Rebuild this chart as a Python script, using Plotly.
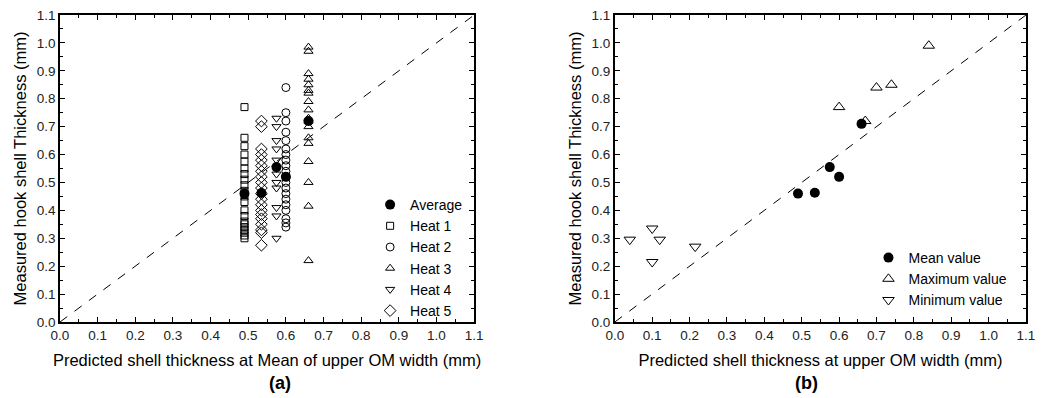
import plotly.graph_objects as go

# ---- Panel (a) data ----
avg_x = [0.49, 0.535, 0.575, 0.60, 0.66]
avg_y = [0.46, 0.462, 0.555, 0.52, 0.72]

heat1_x = 0.49
heat1_y = [0.77, 0.66, 0.63, 0.60, 0.575, 0.55, 0.53, 0.51, 0.49, 0.47, 0.45, 0.43,
           0.40, 0.38, 0.36, 0.35, 0.34, 0.33, 0.32, 0.31, 0.30]
heat2_x = 0.60
heat2_y = [0.84, 0.75, 0.72, 0.68, 0.65, 0.62, 0.60, 0.58, 0.56, 0.54, 0.52, 0.50,
           0.48, 0.46, 0.44, 0.42, 0.40, 0.37, 0.355, 0.34]
heat3_x = 0.66
heat3_y = [0.985, 0.97, 0.89, 0.87, 0.85, 0.83, 0.82, 0.79, 0.76, 0.73, 0.72, 0.70,
           0.66, 0.64, 0.575, 0.50, 0.415, 0.22]
heat4_x = 0.575
heat4_y = [0.73, 0.70, 0.65, 0.62, 0.58, 0.55, 0.53, 0.50, 0.48, 0.41, 0.38, 0.30]
heat5_x = 0.535
heat5_y = [0.72, 0.70, 0.62, 0.60, 0.58, 0.56, 0.54, 0.52, 0.50, 0.48, 0.46, 0.44,
           0.42, 0.40, 0.385, 0.37, 0.35, 0.33, 0.32, 0.275]

# ---- Panel (b) data ----
mean_x = [0.49, 0.535, 0.575, 0.60, 0.66]
mean_y = [0.46, 0.463, 0.555, 0.52, 0.71]
max_x = [0.60, 0.67, 0.70, 0.74, 0.84]
max_y = [0.77, 0.72, 0.84, 0.85, 0.99]
min_x = [0.04, 0.10, 0.10, 0.12, 0.215]
min_y = [0.295, 0.335, 0.215, 0.295, 0.27]

diag = [0.0, 1.1]

FONT = "Liberation Sans, Arial, sans-serif"
BLACK = "#000000"

fig = go.Figure()

def open_marker(symbol, size=8):
    return dict(symbol=symbol, size=size, color=BLACK, line=dict(width=1, color=BLACK))

# panel (a)
fig.add_trace(go.Scatter(x=diag, y=diag, mode="lines", line=dict(color=BLACK, width=1, dash="dash"),
                         showlegend=False, xaxis="x", yaxis="y"))
fig.add_trace(go.Scatter(x=avg_x, y=avg_y, mode="markers", name="Average",
                         marker=dict(symbol="circle", size=10, color=BLACK),
                         xaxis="x", yaxis="y", legend="legend"))
for nm, xv, yv, sym, sz in [("Heat 1", heat1_x, heat1_y, "square-open", 7),
                            ("Heat 2", heat2_x, heat2_y, "circle-open", 8),
                            ("Heat 3", heat3_x, heat3_y, "triangle-up-open", 8),
                            ("Heat 4", heat4_x, heat4_y, "triangle-down-open", 8),
                            ("Heat 5", heat5_x, heat5_y, "diamond-open", 9)]:
    fig.add_trace(go.Scatter(x=[xv] * len(yv), y=yv, mode="markers", name=nm,
                             marker=open_marker(sym, sz), xaxis="x", yaxis="y", legend="legend"))

# panel (b)
fig.add_trace(go.Scatter(x=diag, y=diag, mode="lines", line=dict(color=BLACK, width=1, dash="dash"),
                         showlegend=False, xaxis="x2", yaxis="y2"))
fig.add_trace(go.Scatter(x=mean_x, y=mean_y, mode="markers", name="Mean value",
                         marker=dict(symbol="circle", size=10, color=BLACK),
                         xaxis="x2", yaxis="y2", legend="legend2"))
fig.add_trace(go.Scatter(x=max_x, y=max_y, mode="markers", name="Maximum value",
                         marker=open_marker("triangle-up-open", 10), xaxis="x2", yaxis="y2", legend="legend2"))
fig.add_trace(go.Scatter(x=min_x, y=min_y, mode="markers", name="Minimum value",
                         marker=open_marker("triangle-down-open", 10), xaxis="x2", yaxis="y2", legend="legend2"))

W, H = 1042, 398
ML, MR, MT, MB = 60, 7, 15, 76
PW = W - ML - MR
PH = H - MT - MB
d1 = [0, (478 - ML) / PW]
d2 = [(620 - ML) / PW, 1]

tickvals = [i / 10 for i in range(12)]
ticktext = ["%.1f" % v for v in tickvals]

def axis_common(title, domain=None, anchor=None):
    a = dict(range=[0, 1.1], tickvals=tickvals, ticktext=ticktext,
             ticks="inside", ticklen=5, tickwidth=1.2, tickcolor=BLACK,
             showline=True, linecolor=BLACK, linewidth=1.5, mirror="allticks",
             showgrid=False, zeroline=False,
             tickfont=dict(family=FONT, size=13.5, color="#222222"),
             title=dict(text=title, font=dict(family=FONT, size=16.5, color=BLACK)),
             minor=dict(ticks="inside", ticklen=3, tickwidth=1, tickcolor=BLACK,
                        tickvals=[i / 20 for i in range(1, 22, 2)], showgrid=False))
    if domain is not None:
        a["domain"] = domain
    if anchor is not None:
        a["anchor"] = anchor
    return a

xa1 = axis_common("Predicted shell thickness at Mean of upper OM width (mm)", d1, "y")
xa2 = axis_common("Predicted shell thickness at upper OM width (mm)", d2, "y2")
ya1 = axis_common("Measured hook shell Thickness (mm)", None, "x")
ya2 = axis_common("Measured hook shell Thickness (mm)", None, "x2")
for xa in (xa1, xa2):
    xa["title"]["standoff"] = 12
for ya in (ya1, ya2):
    ya["title"]["standoff"] = 6

legend_font = dict(family=FONT, size=14, color=BLACK)
fig.update_layout(
    width=W, height=H,
    margin=dict(l=ML, r=MR, t=MT, b=MB),
    paper_bgcolor="white", plot_bgcolor="white",
    xaxis=xa1, yaxis=ya1, xaxis2=xa2, yaxis2=ya2,
    legend=dict(x=(373 - ML) / PW, y=(322 - 189) / PH,
                xanchor="left", yanchor="top", font=legend_font,
                bgcolor="rgba(0,0,0,0)", itemwidth=30, tracegroupgap=0),
    legend2=dict(x=(876 - ML) / PW, y=(322 - 242) / PH,
                 xanchor="left", yanchor="top", font=legend_font,
                 bgcolor="rgba(0,0,0,0)", itemwidth=30, tracegroupgap=0),
    annotations=[
        dict(text="<b>(a)</b>", x=(d1[0] + d1[1]) / 2, y=-61 / PH, xref="paper", yref="paper",
             showarrow=False, yanchor="middle", font=dict(family=FONT, size=18, color=BLACK)),
        dict(text="<b>(b)</b>", x=(d2[0] + d2[1]) / 2, y=-61 / PH, xref="paper", yref="paper",
             showarrow=False, yanchor="middle", font=dict(family=FONT, size=18, color=BLACK)),
    ],
)

fig.write_html("out.html")
